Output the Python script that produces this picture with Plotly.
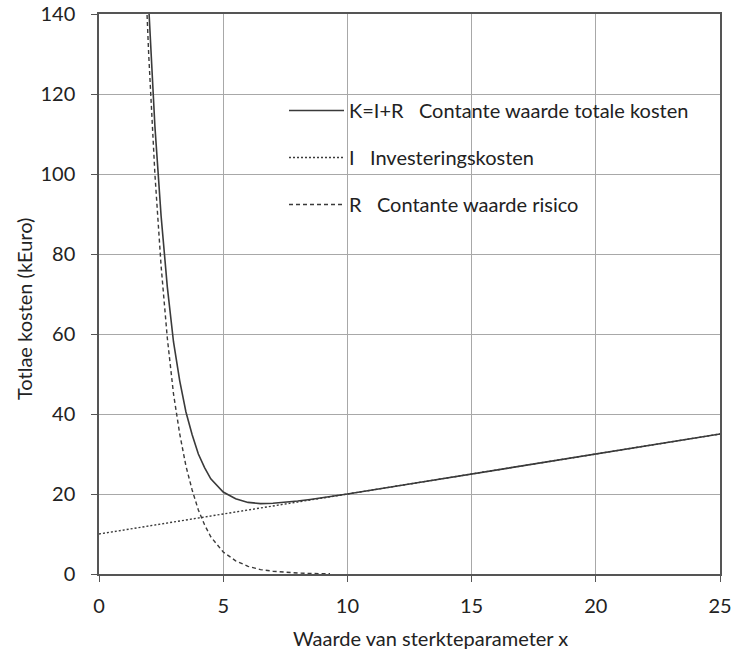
import plotly.graph_objects as go

# Investeringskosten I (straight line)
i_x = [0, 25]
i_y = [10, 35]

# Contante waarde risico R
r_x = [1.9, 2.0, 2.25, 2.5, 2.75, 3.0, 3.25, 3.5, 3.75, 4.0, 4.25, 4.5, 5.0,
       5.5, 6.0, 6.5, 7.0, 7.5, 8.0, 8.5, 9.0, 9.3]
r_y = [145, 130, 100, 77, 59, 45, 35, 27, 21, 16, 12.3, 9.3, 5.5,
       3.3, 1.9, 1.1, 0.7, 0.4, 0.24, 0.14, 0.08, 0.06]

# Contante waarde totale kosten K = I + R
k_x = [1.95, 2.0, 2.25, 2.5, 2.75, 3.0, 3.25, 3.5, 3.75, 4.0, 4.25, 4.5, 5.0,
       5.5, 6.0, 6.5, 7.0, 7.5, 8.0, 8.5, 9.0, 10, 12.5, 15, 17.5, 20, 22.5, 25]
k_y = [150, 142, 112, 89.5, 71.8, 58, 48.3, 40.5, 34.8, 30, 26.6, 23.8, 20.5,
       18.8, 17.9, 17.6, 17.7, 17.9, 18.24, 18.64, 19.08, 20, 22.5, 25, 27.5, 30, 32.5, 35]

x_ticks = [0, 5, 10, 15, 20, 25]
y_ticks = [0, 20, 40, 60, 80, 100, 120, 140]

x_title = "Waarde van sterkteparameter x"
y_title = "Totlae kosten (kEuro)"

line_col = "#3a3a3a"
text_col = "#222222"
font_fam = "Lato, Open Sans, sans-serif"
FS = 20

# plot area in pixels
L, R, T, B = 99, 720, 14, 574
W, H = 734, 658


def px_x(px):
    return (px - L) / (R - L)


def px_y(py):
    return (B - py) / (B - T)


fig = go.Figure()
fig.add_trace(go.Scatter(x=k_x, y=k_y, mode="lines", legendgroup="k",
                         name="K=I+R   Contante waarde totale kosten",
                         line=dict(color=line_col, width=1.6)))
fig.add_trace(go.Scatter(x=i_x, y=i_y, mode="lines", legendgroup="i",
                         name="I   Investeringskosten",
                         line=dict(color=line_col, width=1.4, dash="2px,2px")))
fig.add_trace(go.Scatter(x=r_x, y=r_y, mode="lines", legendgroup="r",
                         name="R   Contante waarde risico",
                         line=dict(color=line_col, width=1.4, dash="4px,3px")))

# white legend panel hiding gridlines
fig.add_shape(type="rect", xref="paper", yref="paper",
              x0=px_x(273), x1=px_x(687), y0=px_y(228), y1=px_y(87),
              fillcolor="white", line=dict(width=0), layer="between")

fig.add_annotation(text=x_title, xref="paper", yref="paper",
                   x=px_x(430), y=px_y(638), xanchor="center", yanchor="middle",
                   showarrow=False, font=dict(size=FS, color=text_col))
fig.add_annotation(text=y_title, xref="paper", yref="paper", textangle=-90,
                   x=px_x(24), y=px_y(309), xanchor="center", yanchor="middle",
                   showarrow=False, font=dict(size=FS, color=text_col))

fig.update_layout(
    width=W, height=H,
    margin=dict(l=L, r=W - R, t=T, b=H - B),
    paper_bgcolor="white", plot_bgcolor="white",
    font=dict(family=font_fam, size=FS, color=text_col),
    showlegend=True,
    legend=dict(x=px_x(284), y=px_y(91), xanchor="left", yanchor="top",
                bgcolor="rgba(0,0,0,0)", borderwidth=0, tracegroupgap=18,
                itemwidth=55, font=dict(size=FS, color=text_col)),
    xaxis=dict(range=[0, 25], tickvals=x_ticks, showgrid=True,
               gridcolor="#a8a8a8", gridwidth=1, showline=True,
               linecolor="#555555", linewidth=1.5, mirror=True,
               ticks="outside", ticklen=6, tickcolor="#555555",
               ticklabelstandoff=7, automargin=False,
               zeroline=False, tickfont=dict(size=FS, color=text_col)),
    yaxis=dict(range=[0, 140], tickvals=y_ticks, showgrid=True,
               gridcolor="#a8a8a8", gridwidth=1, showline=True,
               linecolor="#555555", linewidth=1.5, mirror=True,
               ticks="outside", ticklen=6, tickcolor="#555555",
               ticklabelstandoff=12, automargin=False,
               zeroline=False, tickfont=dict(size=FS, color=text_col)),
)

fig.write_html("out.html")
